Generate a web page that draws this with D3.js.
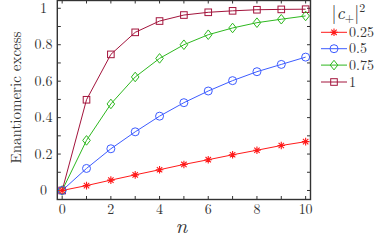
<!DOCTYPE html>
<html><head><meta charset="utf-8">
<script src="https://cdn.jsdelivr.net/npm/d3@7"></script>
<style>body{margin:0;background:#fff}svg{display:block}</style>
</head><body><svg id="c" width="374" height="241"></svg>
<script>
const n = [0,1,2,3,4,5,6,7,8,9,10];
const seriesLabels = ["0.25","0.5","0.75","1"];
const s025 = [0,0.027,0.057,0.086,0.114,0.143,0.169,0.196,0.221,0.247,0.268];
const s05  = [0,0.121,0.229,0.322,0.408,0.482,0.546,0.603,0.652,0.692,0.732];
const s075 = [0,0.275,0.475,0.623,0.725,0.800,0.855,0.892,0.921,0.940,0.958];
const s1   = [0,0.498,0.747,0.868,0.930,0.963,0.978,0.986,0.992,0.994,0.995];
const xTicks = [0,2,4,6,8,10];
const yTicks = [0,0.2,0.4,0.6,0.8,1];

const svg = d3.select("#c");
const L=57.3,R=310.5,T=0,B=199.5;
const x = d3.scaleLinear().domain([-0.2,10.2]).range([L,R]);
const y = d3.scaleLinear().domain([-0.0494,1.0455]).range([B,T]);
const TXT = "#333";
const FONT = "Latin Modern Roman";

const series = [
  {label:seriesLabels[3], v:s1,   color:"#a3143c", m:"square"},
  {label:seriesLabels[2], v:s075, color:"#2eb81f", m:"diamond"},
  {label:seriesLabels[1], v:s05,  color:"#3d5cff", m:"circle"},
  {label:seriesLabels[0], v:s025, color:"#ff1a1a", m:"star"}
];

function marker(g, type, color){
  if(type==="circle") g.append("circle").attr("r",4).attr("fill","none").attr("stroke",color).attr("stroke-width",1);
  else if(type==="square") g.append("rect").attr("x",-3.3).attr("y",-3.3).attr("width",6.6).attr("height",6.6).attr("fill","none").attr("stroke",color).attr("stroke-width",1);
  else if(type==="diamond") g.append("path").attr("d","M0,-4.8L3.8,0L0,4.8L-3.8,0Z").attr("fill","none").attr("stroke",color).attr("stroke-width",1);
  else if(type==="star") g.append("path").attr("d","M-3.8,0H3.8M0,-3.8V3.8M-2.7,-2.7L2.7,2.7M-2.7,2.7L2.7,-2.7").attr("stroke",color).attr("stroke-width",1.1).attr("fill","none");
}

const ax = svg.append("g").attr("stroke","#333").attr("stroke-width",1);
const xMinor = d3.range(0,11,1);
const yMinor = d3.range(0,1.01,0.1);
xMinor.forEach(t=>{
  ax.append("line").attr("x1",x(t)).attr("x2",x(t)).attr("y1",B).attr("y2",B-3.5);
  ax.append("line").attr("x1",x(t)).attr("x2",x(t)).attr("y1",T).attr("y2",T+3.5);
});
yMinor.forEach(t=>{
  ax.append("line").attr("x1",L).attr("x2",L+3.5).attr("y1",y(t)).attr("y2",y(t));
  ax.append("line").attr("x1",R).attr("x2",R-3.5).attr("y1",y(t)).attr("y2",y(t));
});

const line = d3.line().x((d,i)=>x(n[i])).y(d=>y(d));
series.forEach(s=>{
  svg.append("path").datum(s.v).attr("d",line).attr("fill","none").attr("stroke",s.color).attr("stroke-width",1);
});
series.forEach(s=>{
  s.v.forEach((v,i)=>{
    marker(svg.append("g").attr("transform",`translate(${x(n[i])},${y(v)})`), s.m, s.color);
  });
});

svg.append("rect").attr("x",L).attr("y",T+0.5).attr("width",R-L).attr("height",B-T-0.5).attr("fill","none").attr("stroke","#333").attr("stroke-width",1.4);

function T_(sel){ return sel.attr("fill",TXT).attr("font-family",FONT); }
xTicks.forEach(t=>T_(svg.append("text")).attr("x",x(t)).attr("y",213.5).attr("text-anchor","middle").attr("font-size",14).text(t));
yTicks.forEach(t=>T_(svg.append("text")).attr("x",43.5).attr("y",y(t)+4.6).attr("text-anchor","middle").attr("font-size",14).text(t));

T_(svg.append("text")).attr("transform","translate(20.5,97.5) rotate(-90)").attr("text-anchor","middle").attr("font-size",15).text("Enantiomeric excess");
T_(svg.append("text")).attr("x",181.5).attr("y",233).attr("text-anchor","middle").attr("font-size",21).attr("font-style","italic").text("n");

const lt = T_(svg.append("text")).attr("x",331.5).attr("y",18.5).attr("font-size",18);
lt.append("tspan").text("|");
lt.append("tspan").attr("font-style","italic").text("c");
lt.append("tspan").attr("font-size",12).attr("dy",3).text("+");
lt.append("tspan").attr("dy",-3).text("|");
lt.append("tspan").attr("font-size",12).attr("dy",-7).text("2");

const legOrder = [series[3],series[2],series[1],series[0]];
const legY = [32.3,48.7,65.1,82];
legOrder.forEach((s,i)=>{
  const g = svg.append("g").attr("transform",`translate(0,${legY[i]})`);
  g.append("line").attr("x1",321).attr("x2",347).attr("stroke",s.color).attr("stroke-width",1);
  marker(g.append("g").attr("transform","translate(334,0)"), s.m, s.color);
  T_(g.append("text")).attr("x",349).attr("y",4.6).attr("font-size",14).text(s.label);
});
</script></body></html>
